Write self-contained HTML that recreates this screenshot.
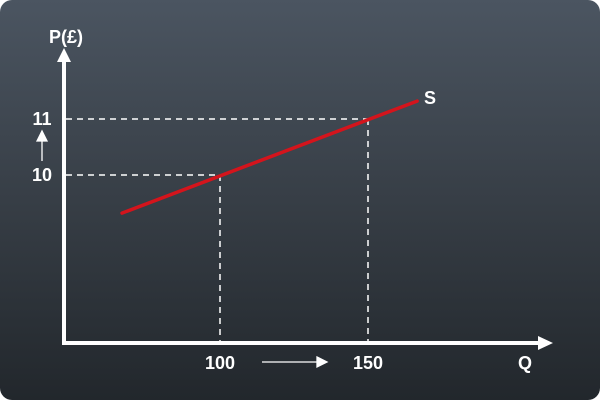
<!DOCTYPE html>
<html><head><meta charset="utf-8"><style>
html,body{margin:0;padding:0;background:#fff}
#wrap{width:600px;height:400px;border-radius:12px;overflow:hidden;background:linear-gradient(to bottom,#4b5561 0%,#373e46 50%,#22272c 100%)}
svg text{font-family:"Liberation Sans",sans-serif;font-weight:bold;fill:#fff}
</style></head><body>
<div id="wrap">
<svg id="c" width="600" height="400"></svg>
</div>
<script>
const supplyQ = [66.9, 166.6];
const supplyP = [9.32, 11.32];
const refQ = [100, 150];
const refP = [10, 11];
const xTickLabels = ["100", "150"];
const yTickLabels = ["10", "11"];

const sx = q => 220 + (q - 100) * 2.96;
const sy = p => 175 - (p - 10) * 56;
const NS = "http://www.w3.org/2000/svg";
const svg = document.getElementById('c');
function mk(tag, attrs){const e=document.createElementNS(NS,tag);for(const k in attrs)e.setAttribute(k,attrs[k]);svg.appendChild(e);return e;}

for (let i=0;i<refQ.length;i++){
  const x=sx(refQ[i]), y=sy(refP[i]);
  const h=mk('line',{x1:66,y1:y,x2:x,y2:y,stroke:'#fff','stroke-width':1.5,'stroke-dasharray':'6,5'});
  
  
  const v=mk('line',{x1:x,y1:y,x2:x,y2:341,stroke:'#fff','stroke-width':1.5,'stroke-dasharray':'6,5'});
  
  
  const tx=mk('text',{x:x,y:369,'text-anchor':'middle','font-size':18});
  tx.textContent=xTickLabels[i];
  
  
  const ty=mk('text',{x:42,y:y+6,'text-anchor':'middle','font-size':18});
  ty.textContent=yTickLabels[i];
  
  
}

const ya=mk('path',{d:'M62,345 L62,62 L57,62 L64,48 L71,62 L66,62 L66,345 Z',fill:'#fff'});


const xa=mk('path',{d:'M62,341 L538,341 L538,336 L553,343 L538,350 L538,345 L62,345 Z',fill:'#fff'});



const ua=mk('path',{d:'M42,161 L42,140 M37,141 L42,131 L47,141 Z',stroke:'#fff','stroke-width':1.3,fill:'#fff'});


const ra=mk('path',{d:'M262,362 L318,362 M317,357 L327,362 L317,367 Z',stroke:'#fff','stroke-width':1.3,fill:'#fff'});



const sl=mk('line',{x1:sx(supplyQ[0]),y1:sy(supplyP[0]),x2:sx(supplyQ[1]),y2:sy(supplyP[1]),stroke:'#d4141c','stroke-width':3.5,'stroke-linecap':'round'});



const t1=mk('text',{x:66,y:43,'text-anchor':'middle','font-size':18});
t1.textContent='P(£)';


const t2=mk('text',{x:525,y:369,'text-anchor':'middle','font-size':18});
t2.textContent='Q';


const t3=mk('text',{x:430,y:104,'text-anchor':'middle','font-size':18});
t3.textContent='S';


</script>
</body></html>
